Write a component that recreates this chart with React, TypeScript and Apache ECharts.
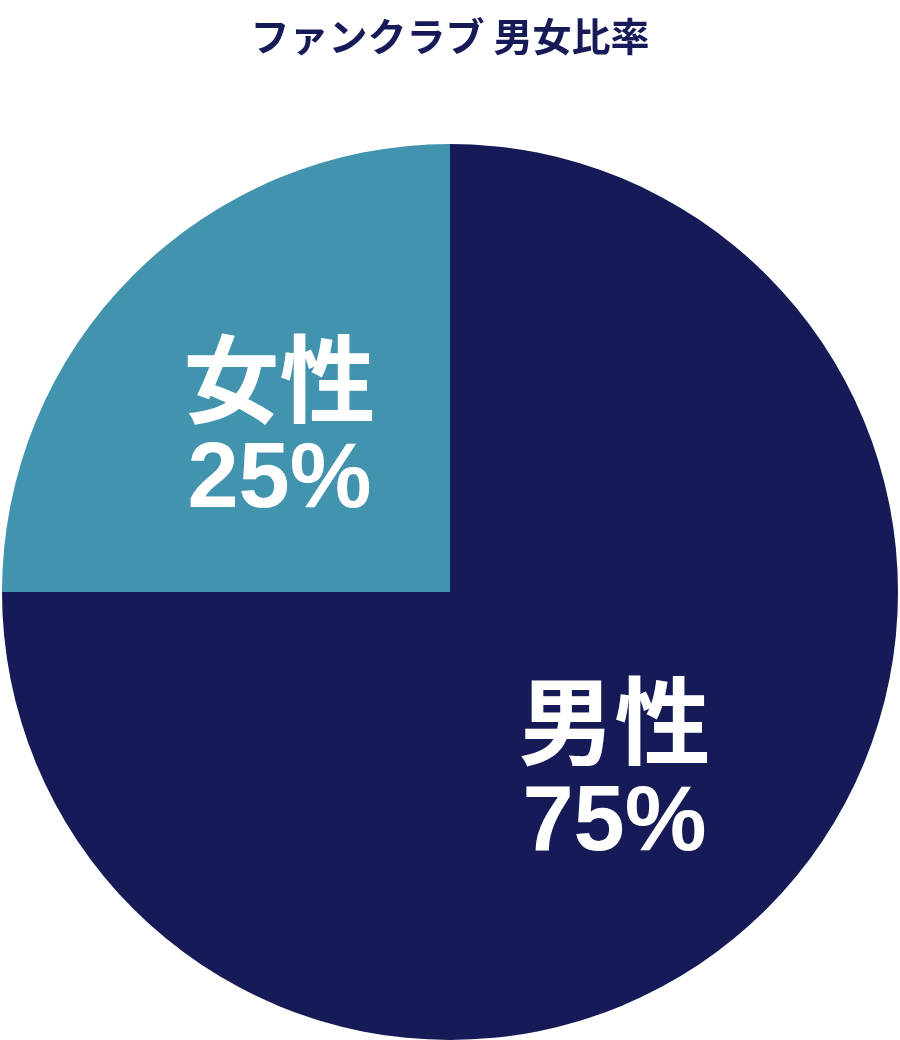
import React, { useEffect, useRef } from 'react';
import * as echarts from 'echarts';

const titleText = 'ファンクラブ 男女比率';
const categories = ['男性', '女性'];
const shares = [75, 25];
const colors = ['#161a56', '#4193ae'];

const App: React.FC = () => {
    const chartRef = useRef<HTMLDivElement>(null);

    useEffect(() => {
        if (chartRef.current) {
            const myChart = echarts.init(chartRef.current, null, { renderer: 'svg' });

            // per-slice nudge so the labels sit where the reference has them
            const offsets = [[4, 12], [-10, -9]];

            const option = {
                animation: false,
                title: {
                    text: titleText,
                    left: 'center',
                    top: 9,
                    textStyle: {
                        fontFamily: 'Noto Sans CJK JP',
                        fontWeight: 'bold',
                        fontSize: 39,
                        color: '#161a56'
                    }
                },
                series: [
                    {
                        type: 'pie',
                        center: [450, 592],
                        radius: 448,
                        startAngle: 90,
                        clockwise: true,
                        silent: true,
                        labelLine: { show: false },
                        itemStyle: { borderWidth: 0 },
                        label: {
                            show: true,
                            position: 'inside',
                            formatter: '{n|{b}}\n{p|{c}%}',
                            rich: {
                                n: {
                                    fontFamily: 'Noto Sans CJK JP',
                                    fontWeight: 'bold',
                                    fontSize: 96,
                                    lineHeight: 106,
                                    color: '#ffffff'
                                },
                                p: {
                                    fontFamily: 'Liberation Sans',
                                    fontWeight: 'bold',
                                    fontSize: 92,
                                    lineHeight: 98,
                                    color: '#ffffff'
                                }
                            }
                        },
                        data: categories.map((name, i) => ({
                            name,
                            value: shares[i],
                            itemStyle: { color: colors[i] },
                            label: { offset: offsets[i] }
                        }))
                    }
                ]
            };

            myChart.setOption(option);

            return () => {
                myChart.dispose();
            };
        }
    }, []);

    return (
        <div
            ref={chartRef}
            style={{ position: 'fixed', left: 0, top: 0, width: '900px', height: '1040px' }}
        />
    );
};

export default App;
